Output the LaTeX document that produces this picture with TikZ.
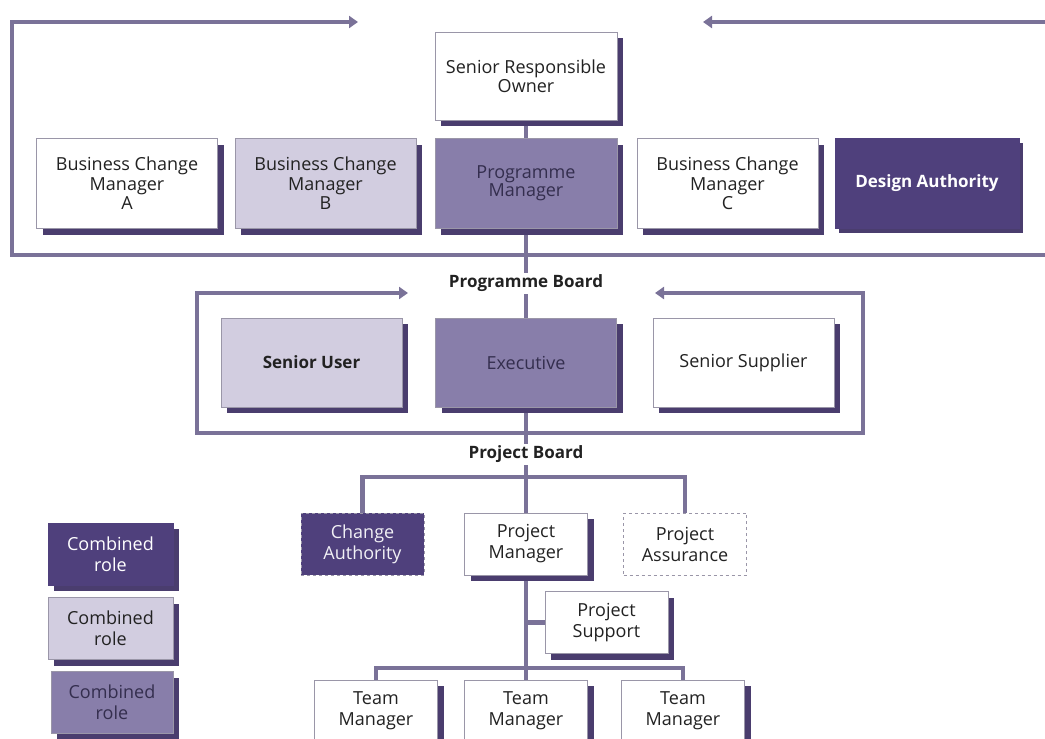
\documentclass[tikz,border=0pt]{standalone}
\usepackage{fontspec}
\setmainfont{Open Sans}
\usetikzlibrary{arrows.meta,shadows,backgrounds}

\definecolor{linec}{HTML}{7A7298}
\definecolor{darkc}{HTML}{4F407C}
\definecolor{medc}{HTML}{887EAA}
\definecolor{lightc}{HTML}{D2CDE0}
\definecolor{shadowc}{HTML}{4A3D6E}
\definecolor{edgec}{HTML}{9A96A8}
\definecolor{inkc}{HTML}{222222}
\definecolor{greyink}{HTML}{342E4E}

\tikzset{
  conn/.style={draw=linec, line width=4.5pt, line join=miter},
  plain/.style={draw=edgec, line width=0.8pt, align=center, inner sep=0pt,
    font=\fontsize{18}{19.5}\selectfont, text=inkc},
  role/.style={plain,
    drop shadow={shadow xshift=6pt, shadow yshift=-6pt, fill=shadowc, opacity=1}},
  flat/.style={draw=edgec, line width=1pt, align=center, inner sep=0pt,
    font=\fontsize{18}{21}\selectfont},
  big/.style={minimum width=181pt, minimum height=90pt},
  mid/.style={minimum width=181pt, minimum height=89pt},
  small/.style={minimum width=123pt, minimum height=62pt, font=\fontsize{18}{21}\selectfont},
  legend/.style={minimum width=125pt, minimum height=62pt, font=\fontsize{18}{21}\selectfont},
  boardlabel/.style={fill=white, inner sep=2pt, font=\bfseries\fontsize{17}{19}\selectfont, text=inkc},
}

\begin{document}
\begin{tikzpicture}[x=1pt,y=-1pt]
\useasboundingbox (0,0) rectangle (1045,739);
\clip (0,0) rectangle (1045,739);

% programme level
\node[role, minimum width=182pt, minimum height=88pt, fill=white] (sro) at (526,76) {Senior Responsible\\Owner};
\node[role, big, fill=white] (bcma) at (127,183.5) {Business Change\\Manager\\A};
\node[role, big, fill=lightc] (bcmb) at (325.5,183.5) {Business Change\\Manager\\B};
\node[role, minimum width=182pt, minimum height=90pt, fill=medc, text=greyink] (pgm) at (526,183.5) {\raisebox{-3pt}{\begin{tabular}{@{}c@{}}Programme\\[-1.5pt]Manager\end{tabular}}};
\node[role, big, fill=white] (bcmc) at (727.5,183.5) {Business Change\\Manager\\C};
\node[plain, minimum width=184pt, minimum height=90pt, fill=darkc, draw=darkc, text=white, font=\bfseries\fontsize{17}{19}\selectfont,
  drop shadow={shadow xshift=4pt, shadow yshift=-4pt, fill=shadowc, opacity=1}] (da) at (927,183.5) {Design Authority};

% project board level
\node[role, mid, fill=lightc, font=\bfseries\fontsize{17}{19}\selectfont] (su) at (311.5,362.5) {Senior User};
\node[role, mid, fill=medc, text=greyink] (exec) at (526,362.5) {Executive};
\node[role, mid, fill=white] (ss) at (743.5,362.5) {Senior Supplier};

\node[boardlabel] (pgb) at (526,283) {Programme Board};
\node[boardlabel] (pjb) at (526,454) {Project Board};

% project team level
\node[flat, small, fill=darkc, draw=edgec, dashed, text=white!92!darkc] (ca) at (362.5,544) {Change\\Authority};
\node[role, small, fill=white] (pjm) at (526,544) {Project\\Manager};
\node[flat, small, fill=white, draw=edgec, dashed, text=inkc] (pa) at (685,544) {Project\\Assurance};
\node[role, small, fill=white] (ps) at (606.5,622.5) {Project\\Support};
\node[role, small, fill=white] (tm1) at (376,711) {Team\\Manager};
\node[role, small, fill=white] (tm2) at (526,711) {Team\\Manager};
\node[role, small, fill=white] (tm3) at (683,711) {Team\\Manager};

% key
\node[role, legend, fill=darkc, draw=darkc, text=white] (key1) at (110.5,554) {Combined\\role};
\node[role, legend, fill=lightc] (key2) at (110.5,628.5) {Combined\\role};
\node[role, legend, minimum width=122pt, fill=medc, text=greyink] (key3) at (112,702.5) {Combined\\role};

% loop and tree coordinates
\coordinate (upArrL) at (358,22);
\coordinate (upArrR) at (703,22);
\coordinate (upTL) at (12,22);
\coordinate (upBL) at (12,255);
\coordinate (upTR) at (1070,22);
\coordinate (upBR) at (1070,255);
\coordinate (loArrL) at (408,293);
\coordinate (loArrR) at (655,293);
\coordinate (loTL) at (197,293);
\coordinate (loBL) at (197,433);
\coordinate (loTR) at (863,293);
\coordinate (loBR) at (863,433);
\coordinate (pjBranch) at (526,477);
\coordinate (tmBranch) at (526,668);

\begin{pgfonlayer}{background}
  \draw[conn, {Triangle[length=9pt,width=12pt]}-{Triangle[length=9pt,width=12pt]}]
    (upArrR) -- (upTR) -- (upBR) -- (upBL) -- (upTL) -- (upArrL);
  \draw[conn, {Triangle[length=9pt,width=12pt]}-{Triangle[length=9pt,width=12pt]}]
    (loArrR) -- (loTR) -- (loBR) -- (loBL) -- (loTL) -- (loArrL);
  \draw[conn] (sro.south) -- (exec.north);
  \draw[conn] (exec.south) -- (pjm.north);
  \draw[conn] (ca.north) -- (ca.north |- pjBranch) -- (pa.north |- pjBranch) -- (pa.north);
  \draw[conn] (pjm.south) -- (tm2.north);
  \draw[conn] (ps.west) -- (ps.west -| pjm.south);
  \draw[conn] (tm1.north) -- (tm1.north |- tmBranch) -- (tm3.north |- tmBranch) -- (tm3.north);
\end{pgfonlayer}
\end{tikzpicture}
\end{document}
